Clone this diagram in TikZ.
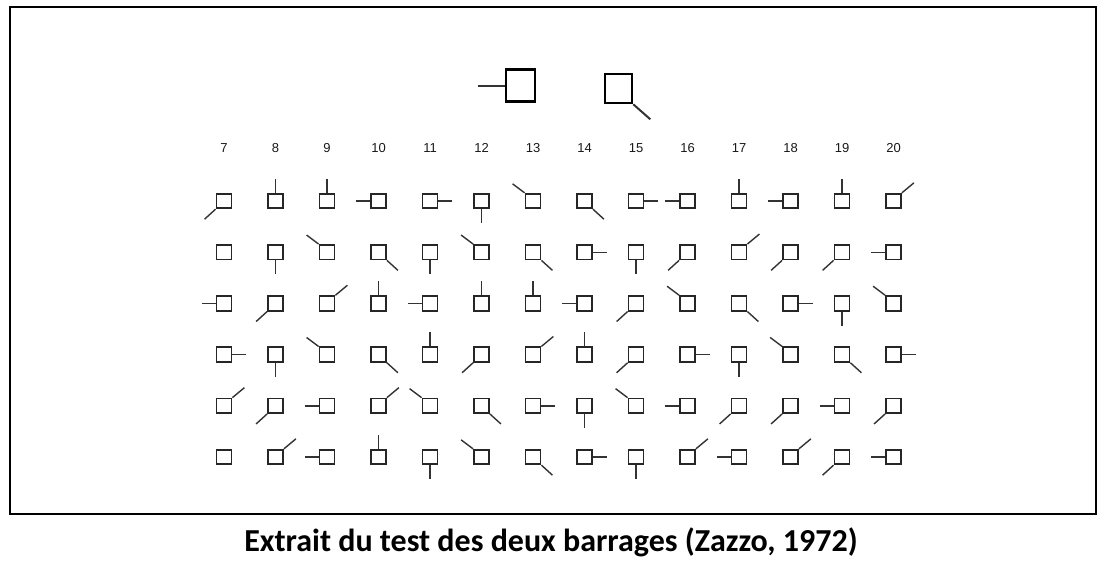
\documentclass[tikz,border=0pt]{standalone}
\usepackage{fontspec}
\setmainfont{Liberation Sans}
\newfontfamily\capfont{Carlito}
\usetikzlibrary{positioning}

\tikzset{
  cell/.style={draw=black!85,line width=1.8pt,minimum width=15pt,minimum height=14.5pt,inner sep=0pt},
  model/.style={draw=black,line width=2.6pt,inner sep=0pt},
  tick/.style={black!80,line width=1.4pt},
  colnum/.style={font=\fontsize{13}{15}\selectfont,text=black!90,inner sep=0pt}
}

% where each stroke leaves its square, and where it goes
\expandafter\def\csname anc-l\endcsname{west}        \expandafter\def\csname off-l\endcsname{-14,0}
\expandafter\def\csname anc-r\endcsname{east}        \expandafter\def\csname off-r\endcsname{14,0}
\expandafter\def\csname anc-t\endcsname{north}       \expandafter\def\csname off-t\endcsname{0,-14}
\expandafter\def\csname anc-b\endcsname{south}       \expandafter\def\csname off-b\endcsname{0,14}
\expandafter\def\csname anc-tl\endcsname{north west} \expandafter\def\csname off-tl\endcsname{-12,-9}
\expandafter\def\csname anc-tr\endcsname{north east} \expandafter\def\csname off-tr\endcsname{12,-10}
\expandafter\def\csname anc-bl\endcsname{south west} \expandafter\def\csname off-bl\endcsname{-11,10}
\expandafter\def\csname anc-br\endcsname{south east} \expandafter\def\csname off-br\endcsname{11,10}
\expandafter\def\csname anc-n\endcsname{center}      \expandafter\def\csname off-n\endcsname{0,0}

\begin{document}
\begin{tikzpicture}[x=1pt,y=-1pt]
\useasboundingbox (0,0) rectangle (1103,562);

\draw [line width=2.5pt] (10,7) rectangle (1096,514);

%%%%%%%%%%%%%%%%%%%%%%%%%%%%
\node [model,minimum width=29pt,minimum height=32pt] (model1) at (520.5,85.5) {};
\draw [tick,line width=2pt] (model1.west) -- ++(-27,0);
\node [model,minimum width=27pt,minimum height=29pt] (model2) at (618.5,88.5) {};
\draw [tick,line width=2pt] (model2.south east) -- ++(17,15);
%%%%%%%%%%%%%%%%%%%%%%%%%%%%
\foreach \n [count=\c] in {7,...,20}
  \node [colnum] (num\n) at ({224+51.5*(\c-1)},148) {\n};
%%%%%%%%%%%%%%%%%%%%%%%%%%%%
\foreach \r/\row in {
  1/{bl,t,t,l,r,b,tl,br,r,l,t,l,t,tr},
  2/{n,b,tl,br,b,tl,br,r,b,bl,tr,bl,bl,l},
  3/{l,bl,tr,t,l,t,t,l,bl,tl,br,r,b,tl},
  4/{r,b,tl,br,t,bl,tr,t,bl,r,b,tl,br,r},
  5/{tr,bl,l,tr,tl,br,r,b,tl,l,bl,bl,l,bl},
  6/{n,tr,l,t,b,tl,br,r,b,tr,l,tr,bl,l}}
{
  \foreach \k [count=\c] in \row {
    \node [cell] (s\r-\c) at ({224+51.5*(\c-1)},{201+51.2*(\r-1)}) {};
    \edef\anc{\csname anc-\k\endcsname}
    \edef\off{\csname off-\k\endcsname}
    \draw [tick] (s\r-\c.\anc) -- ++(\off);
  }
}
%%%%%%%%%%%%%%%%%%%%%%%%%%%%
\node [font=\capfont\bfseries\fontsize{32}{38}\selectfont,inner sep=0pt] (caption) at (551,542) {Extrait du test des deux barrages (Zazzo, 1972)};

\end{tikzpicture}
\end{document}
